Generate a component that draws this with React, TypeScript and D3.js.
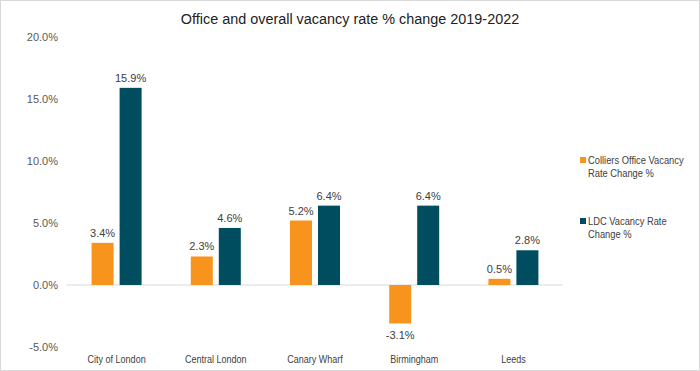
import React from 'react';
import * as d3 from 'd3';

const categories = ['City of London', 'Central London', 'Canary Wharf', 'Birmingham', 'Leeds'];
const colliers = [3.4, 2.3, 5.2, -3.1, 0.5];
const ldc = [15.9, 4.6, 6.4, 6.4, 2.8];
const yTicks = [-5, 0, 5, 10, 15, 20];
const seriesNames = [['Colliers Office Vacancy', 'Rate Change %'], ['LDC Vacancy Rate', 'Change %']];
const colors = ['#F7941D', '#014D60'];

const W = 700;
const H = 371;
const FONT = '"Liberation Sans", Arial, sans-serif';

// narrow text: squeeze horizontally around the anchor point
const Narrow: React.FC<{ x: number; y: number; k: number; anchor?: string; size: number; fill: string; children: React.ReactNode }> = ({ x, y, k, anchor = 'start', size, fill, children }) => (
  <text transform={`translate(${x},${y}) scale(${k},1)`} textAnchor={anchor} fontSize={size} fill={fill}>
    {children}
  </text>
);

const App: React.FC = () => {
  const x = d3.scaleBand<string>().domain(categories).range([67, 563]);
  const y = d3.scaleLinear().domain([-5, 20]).range([347, 37]);
  const barW = 22;
  const gap = 6;
  const series = [colliers, ldc];

  return (
    <svg width={W} height={H} style={{ position: 'absolute', left: 0, top: 0, fontFamily: FONT }}>
      <rect x={0.5} y={0.5} width={W - 1} height={H - 1} fill="#fff" stroke="#d9d9d9" />
      <Narrow x={350} y={24} k={0.93} anchor="middle" size={15.5} fill="#222">
        Office and overall vacancy rate % change 2019-2022
      </Narrow>

      {yTicks.map(t => (
        <text key={t} x={58} y={y(t)} dy="0.35em" textAnchor="end" fontSize={11} fill="#595959">
          {t.toFixed(1)}%
        </text>
      ))}

      <line x1={67} x2={563} y1={y(0)} y2={y(0)} stroke="#d9d9d9" strokeWidth={1} />

      {categories.map((c, i) => {
        const cx = (x(c) ?? 0) + x.bandwidth() / 2;
        return (
          <g key={c}>
            {series.map((s, k) => {
              const v = s[i];
              const bx = k === 0 ? cx - gap / 2 - barW : cx + gap / 2;
              const top = Math.min(y(v), y(0));
              const h = Math.abs(y(v) - y(0));
              const ly = v >= 0 ? y(v) - 6 : y(v) + 16;
              return (
                <g key={k}>
                  <rect x={bx} y={top} width={barW} height={h} fill={colors[k]} />
                  <text x={bx + barW / 2} y={ly} textAnchor="middle" fontSize={11} fill="#404040">
                    {v.toFixed(1)}%
                  </text>
                </g>
              );
            })}
            <Narrow x={cx} y={363} k={0.82} anchor="middle" size={11} fill="#404040">
              {c}
            </Narrow>
          </g>
        );
      })}

      {seriesNames.map((lines, k) => {
        const ty = k === 0 ? 164 : 225;
        return (
          <g key={k}>
            <rect x={580} y={ty - 7} width={6} height={6} fill={colors[k]} />
            {lines.map((l, j) => (
              <Narrow key={j} x={588} y={ty + j * 12.5} k={0.85} size={11} fill="#404040">
                {l}
              </Narrow>
            ))}
          </g>
        );
      })}
    </svg>
  );
};

export default App;
